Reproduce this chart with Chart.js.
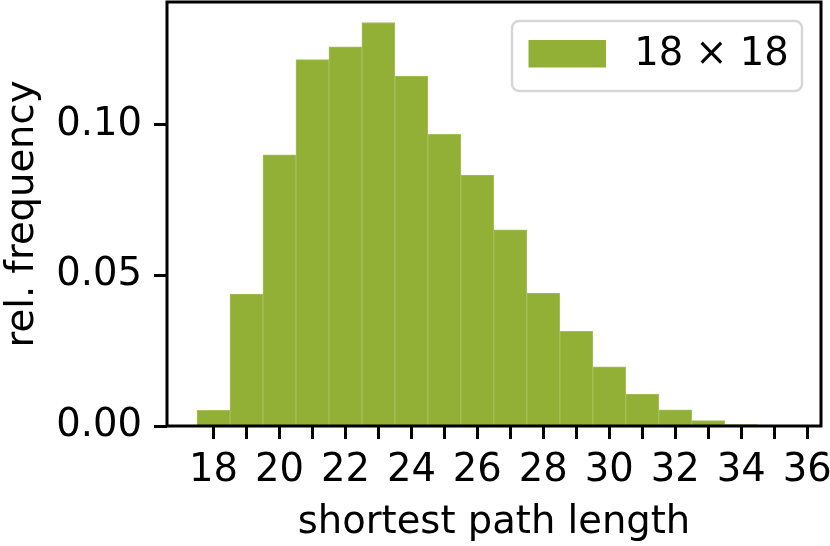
<!DOCTYPE html>
<html>
<head>
<meta charset="utf-8">
<script src="https://cdn.jsdelivr.net/npm/chart.js@4"></script>
<style>
  html, body { margin: 0; padding: 0; background: #ffffff; }
  #c { display: block; }
</style>
</head>
<body>
<canvas id="c" width="830" height="546"></canvas>
<script>
// ---- data ----
const binCenters = [18, 19, 20, 21, 22, 23, 24, 25, 26, 27, 28, 29, 30, 31, 32, 33, 34, 35];
const relFrequency = [0.0052, 0.0438, 0.0900, 0.1216, 0.1258, 0.1339, 0.1161, 0.0968, 0.0833,
                      0.0651, 0.0441, 0.0314, 0.0196, 0.0106, 0.0054, 0.0018, 0.0005, 0.0001];
const seriesLabel = '18 \u00d7 18';
const xTickValues = [18, 19, 20, 21, 22, 23, 24, 25, 26, 27, 28, 29, 30, 31, 32, 33, 34, 35, 36];
const yTickValues = [0, 0.05, 0.10];
const xTitle = 'shortest path length';
const yTitle = 'rel. frequency';

const FONT = 'DejaVu Sans';
const FS = 38.5;
const BAR = 'rgb(147,176,54)';

const framePlugin = {
  id: 'frame',
  afterDraw(chart) {
    const {ctx, chartArea: a} = chart;
    ctx.save();
    ctx.strokeStyle = '#000';
    ctx.lineWidth = 3;
    ctx.strokeRect(a.left, a.top, a.right - a.left, a.bottom - a.top);
    ctx.restore();
  }
};

const legendPlugin = {
  id: 'boxLegend',
  afterDraw(chart) {
    const ctx = chart.ctx;
    const ds = chart.data.datasets[0];
    const x0 = 512, y0 = 21, w = 290, h = 70, r = 7;
    ctx.save();
    ctx.beginPath();
    ctx.roundRect(x0, y0, w, h, r);
    ctx.fillStyle = 'rgba(255,255,255,0.8)';
    ctx.fill();
    ctx.lineWidth = 2.5;
    ctx.strokeStyle = '#d6d6d6';
    ctx.stroke();
    ctx.fillStyle = ds.backgroundColor;
    ctx.fillRect(528.5, 40, 77.5, 27.5);
    ctx.fillStyle = '#000';
    ctx.font = FS + 'px "' + FONT + '"';
    ctx.textBaseline = 'alphabetic';
    ctx.textAlign = 'center';
    ctx.fillText(ds.label, 711.5, 65);
    ctx.restore();
  }
};

new Chart(document.getElementById('c'), {
  type: 'bar',
  data: {
    datasets: [{
      label: seriesLabel,
      data: binCenters.map((x, i) => ({x: x, y: relFrequency[i]})),
      backgroundColor: BAR,
      borderColor: 'rgb(165,192,90)',
      borderWidth: 1,
      borderSkipped: 'bottom',
      barPercentage: 1,
      categoryPercentage: 1
    }]
  },
  options: {
    responsive: false,
    devicePixelRatio: 1,
    animation: false,
    layout: { padding: { left: 0, right: 9, top: 2, bottom: 0 } },
    plugins: {
      legend: { display: false },
      tooltip: { enabled: false }
    },
    scales: {
      x: {
        type: 'linear',
        offset: false,
        min: 16.59,
        max: 36.42,
        afterBuildTicks: (s) => { s.ticks = xTickValues.map(v => ({value: v})); },
        afterFit: (s) => { s.height = 120; s.paddingLeft = 0; s.paddingRight = 0; },
        border: { display: false },
        grid: {
          display: true,
          offset: false,
          drawOnChartArea: false,
          drawTicks: true,
          tickLength: 13,
          tickWidth: 3,
          tickColor: '#000'
        },
        ticks: {
          autoSkip: false,
          maxRotation: 0,
          padding: 9,
          color: '#000',
          font: { family: FONT, size: FS },
          callback: (v) => (v % 2 === 0 ? String(v) : '')
        },
        title: {
          display: true,
          text: xTitle,
          color: '#000',
          padding: { top: 0, bottom: 0 },
          font: { family: FONT, size: FS }
        }
      },
      y: {
        type: 'linear',
        min: 0,
        max: 0.1407,
        afterBuildTicks: (s) => { s.ticks = yTickValues.map(v => ({value: v})); },
        afterFit: (s) => { s.width = 167; s.paddingTop = 0; s.paddingBottom = 0; },
        border: { display: false },
        grid: {
          display: true,
          drawOnChartArea: false,
          drawTicks: true,
          tickLength: 13,
          tickWidth: 3,
          tickColor: '#000'
        },
        ticks: {
          padding: 12,
          color: '#000',
          font: { family: FONT, size: FS },
          callback: (v) => Number(v).toFixed(2)
        },
        title: {
          display: true,
          text: yTitle,
          color: '#000',
          padding: { top: 0, bottom: 0 },
          font: { family: FONT, size: FS }
        }
      }
    }
  },
  plugins: [framePlugin, legendPlugin]
});
</script>
</body>
</html>
